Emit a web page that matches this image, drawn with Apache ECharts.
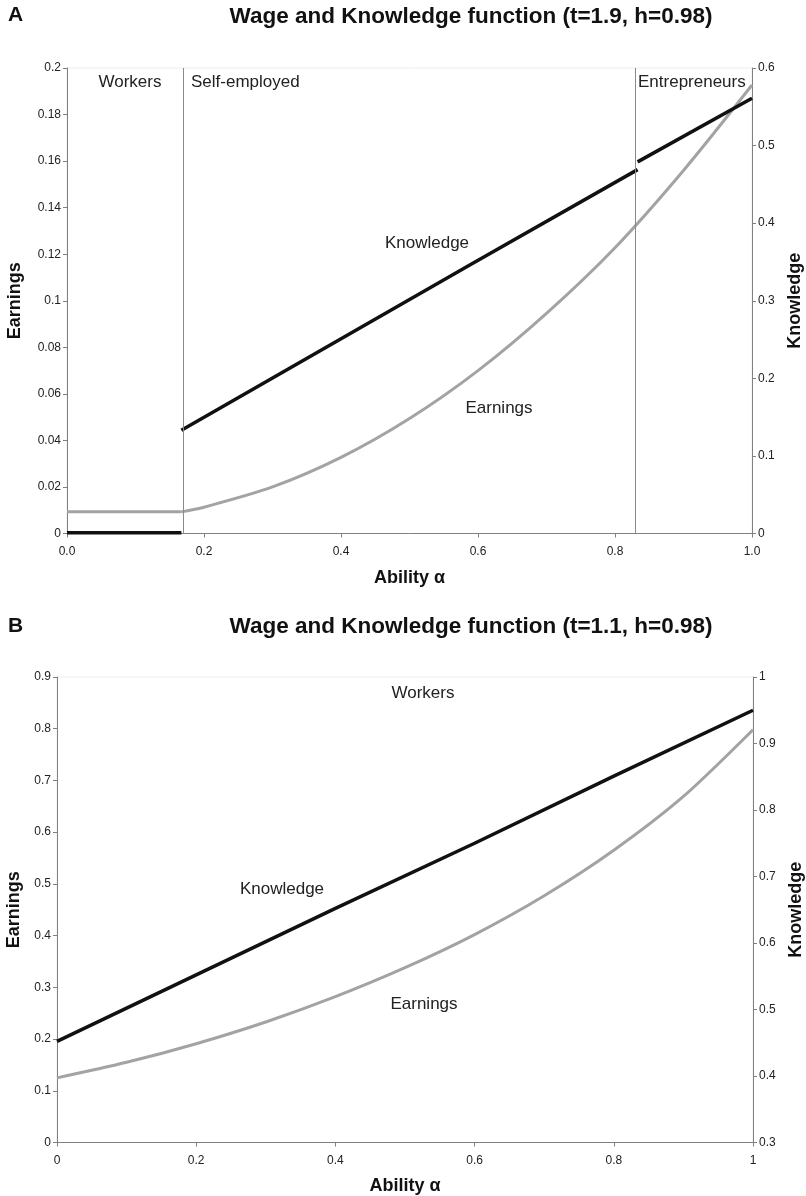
<!DOCTYPE html>
<html>
<head>
<meta charset="utf-8">
<script src="https://cdn.jsdelivr.net/npm/echarts@6/dist/echarts.min.js"></script>
<style>
html,body{margin:0;padding:0;background:#fff;}
#c{width:806px;height:1196px;}
</style>
</head>
<body>
<div id="c"></div>
<script>
// ---------- Panel A (t=1.9, h=0.98) ----------
const boundariesA = [0.167, 0.833];
const earningsA_workers = [[0, 0.0093], [0.167, 0.0093]];
const earningsA_curve = [
  [0.167, 0.0093], [0.2, 0.0113], [0.3, 0.0200], [0.4, 0.0327], [0.5, 0.0494],
  [0.6, 0.0700], [0.7, 0.0946], [0.8, 0.1228], [0.9, 0.1560], [1.0, 0.1927]
];
const knowledgeA_workers = [[0, 0.001], [0.167, 0.001]];
const knowledgeA_self = [[0.167, 0.133], [0.588, 0.346], [0.833, 0.469]];
const knowledgeA_entre = [[0.833, 0.479], [1.0, 0.561]];

// ---------- Panel B (t=1.1, h=0.98) ----------
const earningsB = [
  [0, 0.125], [0.1, 0.155], [0.2, 0.191], [0.3, 0.233], [0.4, 0.282], [0.5, 0.338],
  [0.6, 0.402], [0.7, 0.477], [0.8, 0.565], [0.9, 0.669], [1.0, 0.798]
];
const knowledgeB = [[0, 0.452], [0.2, 0.552], [0.4, 0.652], [0.6, 0.750], [0.8, 0.851], [1.0, 0.950]];

const titleA = 'Wage and Knowledge function (t=1.9, h=0.98)';
const titleB = 'Wage and Knowledge function (t=1.1, h=0.98)';

const FONT = "'Liberation Sans', Arial, sans-serif";
const axisCol = '#808080';
const knowCol = '#111111';
const earnCol = '#a3a3a3';

const chart = echarts.init(document.getElementById('c'), null, {renderer: 'canvas'});

function yAxisCfg(gridIndex, min, max, interval, name, pos, gap, fmt) {
  return {
    type: 'value', gridIndex: gridIndex, min: min, max: max, interval: interval,
    position: pos, name: name, nameLocation: 'middle', nameGap: gap, nameRotate: 90,
    nameTextStyle: {fontFamily: FONT, fontWeight: 'bold', fontSize: 18, color: '#111'},
    axisLine: {show: true, lineStyle: {color: axisCol, width: 1}},
    axisTick: {show: true, length: 4, lineStyle: {color: axisCol}},
    axisLabel: {fontFamily: FONT, fontSize: 12, color: '#222', margin: 6, formatter: fmt},
    splitLine: {show: false}
  };
}
function xAxisCfg(gridIndex, gap, fmt) {
  return {
    type: 'value', gridIndex: gridIndex, min: 0, max: 1, interval: 0.2,
    name: 'Ability α', nameLocation: 'middle', nameGap: gap,
    nameTextStyle: {fontFamily: FONT, fontWeight: 'bold', fontSize: 18, color: '#111'},
    axisLine: {show: true, lineStyle: {color: axisCol, width: 1}},
    axisTick: {show: true, length: 4, lineStyle: {color: axisCol}},
    axisLabel: {fontFamily: FONT, fontSize: 12, color: '#222', margin: 12, formatter: fmt},
    splitLine: {show: false}
  };
}
const lineBase = {type: 'line', showSymbol: false, symbol: 'none', silent: true, animation: false};
const annot = (x, y, text, align) => ({
  type: 'text', x: x, y: y,
  style: {text: text, font: '17px ' + FONT, fill: '#222', textAlign: align || 'center', textVerticalAlign: 'middle'}
});

const option = {
  backgroundColor: '#fff',
  animation: false,
  grid: [
    {left: 67, right: 54, top: 68, height: 465.5, containLabel: false, outerBoundsMode: 'none',
     show: true, borderColor: '#ececec', borderWidth: 1},
    {left: 57, right: 53, top: 677, height: 465.5, containLabel: false, outerBoundsMode: 'none',
     show: true, borderColor: '#ececec', borderWidth: 1}
  ],
  xAxis: [
    xAxisCfg(0, 36, v => v.toFixed(1)),
    xAxisCfg(1, 35, v => (v === 0 || v === 1) ? String(v) : v.toFixed(1))
  ],
  yAxis: [
    yAxisCfg(0, 0, 0.2, 0.02, 'Earnings', 'left', 43, v => (v === 0 ? '0' : String(+v.toFixed(2)))),
    yAxisCfg(0, 0, 0.6, 0.1, 'Knowledge', 'right', 34, v => (v === 0 ? '0' : String(+v.toFixed(1)))),
    yAxisCfg(1, 0, 0.9, 0.1, 'Earnings', 'left', 33, v => (v === 0 ? '0' : String(+v.toFixed(1)))),
    yAxisCfg(1, 0.3, 1.0, 0.1, 'Knowledge', 'right', 34, v => (v === 1 ? '1' : String(+v.toFixed(1))))
  ],
  graphic: [
    {type: 'text', left: 8, top: 5, style: {text: 'A', font: 'bold 21px ' + FONT, fill: '#111'}},
    {type: 'text', left: 8, top: 616, style: {text: 'B', font: 'bold 21px ' + FONT, fill: '#111'}},
    {type: 'text', x: 471, y: 17, style: {text: titleA, font: 'bold 22.5px ' + FONT, fill: '#111', textAlign: 'center', textVerticalAlign: 'middle'}},
    {type: 'text', x: 471, y: 627, style: {text: titleB, font: 'bold 22.5px ' + FONT, fill: '#111', textAlign: 'center', textVerticalAlign: 'middle'}},
    annot(130, 82, 'Workers'),
    annot(191, 82, 'Self-employed', 'left'),
    annot(638, 82, 'Entrepreneurs', 'left'),
    annot(427, 243, 'Knowledge'),
    annot(499, 408, 'Earnings'),
    annot(423, 693, 'Workers'),
    annot(282, 889, 'Knowledge'),
    annot(424, 1004, 'Earnings')
  ],
  series: [
    Object.assign({}, lineBase, {
      name: 'EarningsA_w', xAxisIndex: 0, yAxisIndex: 0, data: earningsA_workers,
      lineStyle: {color: earnCol, width: 3}, z: 3,
      markLine: {
        silent: true, symbol: 'none', label: {show: false},
        lineStyle: {color: '#8a8a8a', width: 1, type: 'solid'},
        data: boundariesA.map(b => ({xAxis: b}))
      }
    }),
    Object.assign({}, lineBase, {
      name: 'EarningsA', xAxisIndex: 0, yAxisIndex: 0, data: earningsA_curve,
      smooth: 0.3,
      lineStyle: {color: earnCol, width: 3}, z: 3
    }),
    Object.assign({}, lineBase, {
      name: 'KnowA_w', xAxisIndex: 0, yAxisIndex: 1, data: knowledgeA_workers,
      lineStyle: {color: knowCol, width: 3.5}, z: 4
    }),
    Object.assign({}, lineBase, {
      name: 'KnowA_s', xAxisIndex: 0, yAxisIndex: 1, data: knowledgeA_self,
      lineStyle: {color: knowCol, width: 3.5}, z: 4
    }),
    Object.assign({}, lineBase, {
      name: 'KnowA_e', xAxisIndex: 0, yAxisIndex: 1, data: knowledgeA_entre,
      lineStyle: {color: knowCol, width: 3.5}, z: 4
    }),
    Object.assign({}, lineBase, {
      name: 'EarningsB', xAxisIndex: 1, yAxisIndex: 2, data: earningsB,
      smooth: 0.3,
      lineStyle: {color: earnCol, width: 3}, z: 3
    }),
    Object.assign({}, lineBase, {
      name: 'KnowB', xAxisIndex: 1, yAxisIndex: 3, data: knowledgeB,
      lineStyle: {color: knowCol, width: 3.5}, z: 4
    })
  ]
};
chart.setOption(option);
</script>
</body>
</html>
